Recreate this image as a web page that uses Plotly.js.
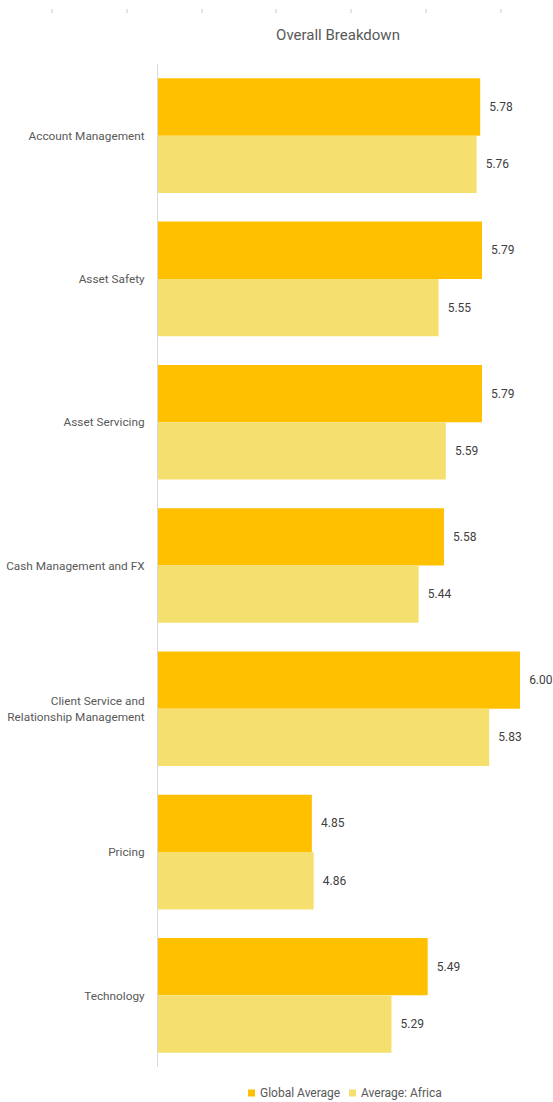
<!DOCTYPE html>
<html>
<head>
<meta charset="utf-8">
<script src="https://cdn.plot.ly/plotly-3.0.1.min.js"></script>
<style>html,body{margin:0;padding:0;background:#fff;}#chart{width:553px;height:1102px;}</style>
</head>
<body>
<div id="chart"></div>
<script>
const categories = ["Account Management","Asset Safety","Asset Servicing","Cash Management and FX","Client Service and<br>Relationship Management","Pricing","Technology"];
const globalAverage = [5.78, 5.79, 5.79, 5.58, 6.00, 4.85, 5.49];
const africaAverage = [5.76, 5.55, 5.59, 5.44, 5.83, 4.86, 5.29];
const seriesNames = ["Global Average", "Average: Africa"];
const seriesColors = ["#FFC000", "#F5E06F"];

const W = 553, H = 1102, L = 158, R = 0, T = 64, B = 35;
const fontFam = "Roboto, 'Liberation Sans', sans-serif";
const pw = W - L - R, ph = H - T - B;
const px2x = px => (px - L) / pw;
const py2y = py => (H - B - py) / ph;

const mk = (vals, i) => ({
  type: 'bar', orientation: 'h', y: categories, x: vals, name: seriesNames[i],
  marker: {color: seriesColors[i]},
  text: vals.map(v => '\u2002' + v.toFixed(2)), textposition: 'outside',
  textfont: {size: 12, color: '#404040', family: fontFam},
  cliponaxis: false, hoverinfo: 'x+name'
});

const tickPx = [52, 127, 202, 276, 351, 426, 501];
const shapes = tickPx.map(px => ({
  type: 'line', xref: 'paper', yref: 'paper',
  x0: px2x(px), x1: px2x(px), y0: py2y(9), y1: py2y(13),
  line: {color: '#c8c8c8', width: 1}
}));

// custom legend (small squares + text)
const legendX = [248, 349];
const legendY = 1093;
const annotations = [];
legendX.forEach((lx, i) => {
  shapes.push({type: 'rect', xref: 'paper', yref: 'paper',
    x0: px2x(lx), x1: px2x(lx + 7), y0: py2y(legendY - 3.5), y1: py2y(legendY + 3.5),
    fillcolor: seriesColors[i], line: {width: 0}});
  annotations.push({xref: 'paper', yref: 'paper', x: px2x(lx + 10), y: py2y(legendY),
    xanchor: 'left', yanchor: 'middle', showarrow: false, text: seriesNames[i],
    font: {size: 12, color: '#595959', family: fontFam}});
});

Plotly.newPlot('chart', [mk(globalAverage, 0), mk(africaAverage, 1)], {
  width: W, height: H,
  margin: {l: L, r: R, t: T, b: B, autoexpand: false},
  paper_bgcolor: '#fff', plot_bgcolor: '#fff',
  barmode: 'group', bargap: 0.2, bargroupgap: 0,
  font: {family: fontFam, color: '#595959', size: 12},
  title: {text: 'Overall Breakdown', font: {size: 15, color: '#595959', family: fontFam},
          x: 338 / W, xref: 'container', xanchor: 'center', y: 1 - 35 / H, yref: 'container', yanchor: 'middle'},
  xaxis: {range: [4, 4 + pw / 181], showgrid: false, zeroline: false, showticklabels: false, ticks: '', showline: false, fixedrange: true},
  yaxis: {autorange: 'reversed', showline: true, linecolor: '#d9d9d9', linewidth: 1, ticks: '',
          ticklabelstandoff: 10, tickfont: {size: 11.8, color: '#595959', family: fontFam}, showgrid: false, fixedrange: true},
  showlegend: false,
  shapes: shapes,
  annotations: annotations
}, {displayModeBar: false, staticPlot: true});
</script>
</body>
</html>
